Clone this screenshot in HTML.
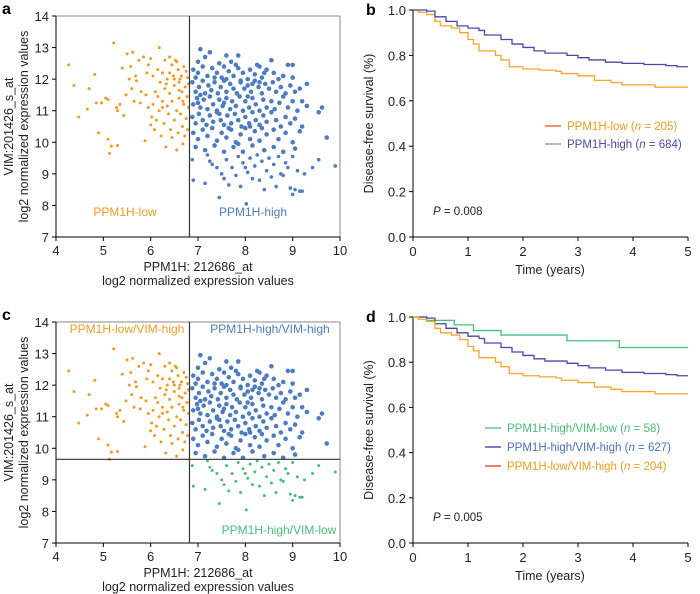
<!DOCTYPE html>
<html><head><meta charset="utf-8"><style>
body{margin:0;background:#fff;}
svg{display:block;font-family:"Liberation Sans",Arial,sans-serif;}
</style></head><body>
<svg id="fig" width="700" height="594" viewBox="0 0 700 594"></svg>
<script>
// Data arrays
const lowHigh = [[4.27,12.45],[4.38,11.8],[4.48,10.8],[4.7,11.7],[4.66,11.05],[4.82,12.15],[4.85,11.25],[4.9,10.3],[4.96,11.25],[5.05,11.4],[5.1,11.35],[5.1,10.1],[5.13,9.65],[5.17,9.88],[5.22,13.15],[5.3,9.9],[5.28,11.1],[5.3,11.0],[5.35,11.2],[5.4,12.35],[5.43,10.85],[5.48,11.5],[5.5,12.8],[5.55,12.0],[5.58,12.4],[5.6,11.7],[5.62,12.85],[5.65,11.3],[5.68,12.1],[5.7,11.95],[5.75,12.6],[5.78,11.25],[5.8,11.6],[5.85,12.7],[5.88,10.05],[5.9,11.5],[5.92,12.2],[5.95,11.1],[6.0,12.65],[6.0,10.55],[6.02,10.8],[6.05,11.2],[6.05,12.1],[6.08,10.4],[6.1,11.6],[6.12,10.7],[6.15,12.3],[6.18,13.0],[6.18,11.0],[6.2,11.9],[6.22,10.2],[6.25,12.2],[6.25,11.3],[6.28,10.6],[6.3,12.6],[6.3,11.7],[6.32,9.85],[6.35,12.0],[6.35,11.15],[6.38,10.9],[6.4,12.7],[6.4,11.55],[6.42,10.4],[6.45,12.45],[6.45,11.3],[6.48,12.1],[6.5,10.7],[6.5,11.8],[6.52,12.6],[6.55,9.75],[6.55,11.0],[6.58,12.3],[6.58,10.3],[6.6,11.9],[6.6,11.4],[6.62,12.0],[6.63,10.9],[6.65,12.1],[6.66,11.6],[6.67,10.5],[6.68,9.95],[6.7,12.4],[6.7,11.2],[6.72,10.2],[6.73,11.75],[6.75,12.25],[6.75,10.75],[6.77,11.45],[6.78,12.05],[6.78,10.4],[6.8,11.1],[6.8,11.85],[6.33,11.85],[6.15,11.45],[5.95,12.45],[6.5,12.0],[6.4,12.2],[6.55,12.55],[6.6,11.65],[6.68,11.3],[6.25,11.1],[6.45,10.15]];
const highHigh = [[7.05,12.95],[7.25,12.85],[7.15,12.7],[7.6,12.75],[7.85,12.75],[8.55,12.6],[8.25,12.45],[9.0,12.45],[8.9,12.45],[7.7,12.55],[7.45,12.5],[7.0,12.55],
[6.9,12.3],[7.0,12.2],[7.1,12.4],[7.2,12.1],[7.3,12.35],[7.4,12.2],[7.5,12.05],[7.55,12.4],[7.65,12.25],[7.75,12.1],[7.85,12.35],[7.95,12.2],[8.05,12.0],[8.1,12.3],[8.2,12.15],[8.3,12.4],[8.35,12.05],[8.45,12.3],[8.6,12.2],[8.7,12.0],[8.8,12.1],[9.0,12.05],[9.3,11.85],[7.35,12.05],[7.8,12.45],[8.4,12.2],[6.95,12.05],[7.6,12.0],
[6.88,11.9],[6.95,11.6],[7.02,11.75],[7.1,11.95],[7.15,11.55],[7.22,11.8],[7.28,11.65],[7.35,11.9],[7.42,11.55],[7.48,11.75],[7.55,11.95],[7.6,11.6],[7.68,11.85],[7.75,11.7],[7.82,11.55],[7.9,11.9],[7.98,11.7],[8.05,11.8],[8.12,11.6],[8.2,11.95],[8.28,11.75],[8.35,11.55],[8.42,11.85],[8.5,11.7],[8.58,11.9],[8.65,11.6],[8.75,11.75],[8.85,11.55],[8.95,11.8],[9.05,11.6],[9.15,11.7],[9.2,11.3],[7.05,11.5],[7.9,11.95],[8.15,11.85],[8.3,11.9],
[6.9,11.2],[6.98,11.4],[7.05,11.1],[7.12,11.35],[7.2,11.05],[7.25,11.45],[7.32,11.2],[7.4,11.0],[7.45,11.35],[7.52,11.15],[7.6,11.4],[7.68,11.05],[7.72,11.3],[7.8,11.15],[7.88,11.45],[7.95,11.0],[8.0,11.3],[8.08,11.1],[8.15,11.4],[8.22,11.2],[8.3,11.0],[8.38,11.35],[8.45,11.1],[8.55,11.3],[8.62,11.05],[8.72,11.25],[8.8,11.45],[8.9,11.1],[9.0,11.3],[9.1,11.0],[9.3,11.15],[9.55,10.95],[9.62,11.1],[7.0,11.25],[7.55,11.25],[8.05,11.45],
[6.88,10.8],[6.95,10.6],[7.02,10.9],[7.1,10.7],[7.18,10.55],[7.25,10.85],[7.32,10.65],[7.4,10.95],[7.48,10.7],[7.55,10.55],[7.62,10.85],[7.7,10.6],[7.78,10.9],[7.85,10.7],[7.92,10.5],[8.0,10.8],[8.08,10.6],[8.15,10.95],[8.22,10.7],[8.3,10.55],[8.38,10.85],[8.45,10.65],[8.55,10.95],[8.65,10.7],[8.75,10.5],[8.85,10.8],[8.95,10.6],[9.05,10.75],[9.2,10.5],[7.45,10.9],[8.1,10.5],
[6.9,10.3],[7.0,10.1],[7.1,10.4],[7.2,10.2],[7.3,10.45],[7.4,10.05],[7.5,10.3],[7.6,10.15],[7.7,10.4],[7.8,10.0],[7.9,10.25],[8.0,10.45],[8.1,10.1],[8.2,10.35],[8.3,10.05],[8.45,10.25],[8.6,10.4],[8.7,10.1],[8.85,10.3],[9.0,10.0],[9.15,10.35],[9.72,10.15],[7.65,10.45],[8.35,10.45],
[6.95,9.85],[7.15,9.75],[7.35,9.9],[7.55,9.7],[7.75,9.85],[7.95,9.7],[8.15,9.9],[8.4,9.75],[8.6,9.85],[8.8,9.7],[9.05,9.8],[7.85,9.95]];
const highLow = [[6.88,9.45],[6.9,8.8],[7.15,8.7],[7.2,9.6],[7.3,9.3],[7.4,9.2],[7.45,8.25],[7.5,9.0],[7.55,8.85],[7.6,9.45],[7.65,8.65],[7.72,9.2],[7.8,8.95],[7.85,9.55],[7.9,8.6],[7.95,9.35],[8.02,8.05],[8.05,9.05],[8.1,9.5],[8.15,8.85],[8.2,9.25],[8.25,9.6],[8.3,8.8],[8.35,9.4],[8.45,9.1],[8.5,9.5],[8.55,8.9],[8.6,9.3],[8.65,8.6],[8.7,9.55],[8.75,9.0],[8.8,8.95],[8.85,9.35],[8.9,9.2],[8.95,8.55],[9.0,8.35],[9.05,8.5],[9.1,9.1],[9.15,8.45],[9.2,8.45],[9.25,9.0],[9.42,9.2],[9.55,9.45],[9.9,9.25],[9.0,9.55],[8.4,8.5],[7.25,9.4],[8.0,9.2]];
const xTicks = [4,5,6,7,8,9,10];
const yTicks = [7,8,9,10,11,12,13,14];
const kmTicksX = [0,1,2,3,4,5];
const kmTicksY = [0.0,0.2,0.4,0.6,0.8,1.0];
const kmLowTimes = [0,0.1,0.25,0.4,0.5,0.7,0.85,1.0,1.1,1.2,1.5,1.6,1.75,2.0,2.3,2.6,2.7,3.0,3.3,3.6,3.8,4.4,5.0];
const kmLowSurv  = [1,0.99,0.98,0.95,0.93,0.92,0.9,0.87,0.85,0.82,0.8,0.78,0.75,0.74,0.735,0.73,0.72,0.71,0.69,0.68,0.67,0.66,0.66];
const kmHighTimes = [0,0.25,0.4,0.6,0.8,1.0,1.2,1.3,1.6,1.8,2.0,2.2,2.4,2.8,3.0,3.2,3.5,3.8,4.2,4.6,4.8,5.0];
const kmHighSurv  = [1,0.995,0.97,0.95,0.93,0.92,0.91,0.89,0.87,0.85,0.835,0.82,0.81,0.8,0.79,0.78,0.77,0.765,0.76,0.755,0.75,0.75];
const kmHHSurv    = [1,0.995,0.97,0.95,0.93,0.915,0.905,0.885,0.865,0.845,0.83,0.815,0.805,0.795,0.785,0.775,0.765,0.755,0.75,0.745,0.74,0.74];
const kmHLTimes = [0,0.25,0.75,1.1,1.6,2.8,3.75,5.0];
const kmHLSurv  = [1,0.985,0.965,0.94,0.92,0.895,0.865,0.865];
const vimCut = 9.65, ppmCut = 6.82;

const NS="http://www.w3.org/2000/svg";
const svg=document.getElementById('fig');
function mk(tag,attrs,parent){const e=document.createElementNS(NS,tag);for(const k in attrs)e.setAttribute(k,attrs[k]);(parent||svg).appendChild(e);return e;}
function txt(s,x,y,attrs,parent){const e=mk('text',Object.assign({x:x,y:y,'font-size':13,fill:'#222'},attrs),parent);e.textContent=s;return e;}

const ORANGE='#f29b1d', BLUE='#4d7cc2', GREEN='#45c07a', PURPLE='#4b47a8', KMORANGE='#f5a62b';

function scatter(oy, quad, letter){
  const x0=56,x1=340,yTop=oy+16,yBot=oy+237;
  const sx=v=>x0+(v-4)/6*(x1-x0), sy=v=>yBot-(v-7)/7*(yBot-yTop);
  const g=mk('g',{});
  
  
  const L=txt(letter,2,oy+14,{'font-size':16,'font-weight':'bold',fill:'#000'},g);
  
  const box=mk('rect',{x:x0,y:yTop,width:x1-x0,height:yBot-yTop,fill:'none',stroke:'#888','stroke-width':1},g);
  
  mk('line',{x1:x0,y1:yTop,x2:x0,y2:yBot,stroke:'#000'},g);
  mk('line',{x1:x0,y1:yBot,x2:x1,y2:yBot,stroke:'#000'},g);
  xTicks.forEach(t=>{mk('line',{x1:sx(t),y1:yBot,x2:sx(t),y2:yBot+4,stroke:'#000'},g);
    const e=txt(t,sx(t),yBot+18,{'text-anchor':'middle'},g);});
  yTicks.forEach(t=>{mk('line',{x1:x0-4,y1:sy(t),x2:x0,y2:sy(t),stroke:'#000'},g);
    const e=txt(t,x0-7,sy(t)+5,{'text-anchor':'end'},g);});
  lowHigh.forEach(p=>{const c=mk('circle',{cx:sx(p[0]),cy:sy(p[1]),r:1.5,fill:ORANGE},g);
    });
  highHigh.forEach(p=>{const c=mk('circle',{cx:sx(p[0]),cy:sy(p[1]),r:2.3,fill:BLUE},g);
    });
  highLow.forEach(p=>{const c=mk('circle',{cx:sx(p[0]),cy:sy(p[1]),r:quad?1.5:1.8,fill:quad?GREEN:BLUE},g);
    });
  const vl=mk('line',{x1:sx(ppmCut),y1:yTop,x2:sx(ppmCut),y2:yBot,stroke:'#333','stroke-width':1.2},g);
  
  if(quad){const hl=mk('line',{x1:x0,y1:sy(vimCut),x2:x1,y2:sy(vimCut),stroke:'#333','stroke-width':1.2},g);
    
    let e=txt('PPM1H-low/VIM-high',127,oy+27,{'text-anchor':'middle',fill:ORANGE,'font-size':12},g);
    e=txt('PPM1H-high/VIM-high',270,oy+27,{'text-anchor':'middle',fill:BLUE,'font-size':12},g);
    e=txt('PPM1H-high/VIM-low',279,oy+228,{'text-anchor':'middle',fill:GREEN,'font-size':12},g);
  } else {
    let e=txt('PPM1H-low',125,oy+216,{'text-anchor':'middle',fill:ORANGE,'font-size':12},g);
    e=txt('PPM1H-high',253,oy+216,{'text-anchor':'middle',fill:BLUE,'font-size':12},g);
  }
  let e=txt('PPM1H: 212686_at',198,yBot+34,{'text-anchor':'middle','font-size':12.5},g);
  e=txt('log2 normalized expression values',198,yBot+48,{'text-anchor':'middle','font-size':12.5},g);
  const cy=(yTop+yBot)/2;
  e=txt('VIM:201426_s_at',13,cy,{'text-anchor':'middle','font-size':12.5,transform:'rotate(-90 13 '+cy+')'},g);
  e=txt('log2 normalized expression values',28,cy,{'text-anchor':'middle','font-size':12.5,transform:'rotate(-90 28 '+cy+')'},g);
}

function km(oy, letter, series, legend, pval){
  const x0=413,x1=688,yTop=oy+(letter==='b'?10:17),yBot=oy+(letter==='b'?237:243);
  const sx=v=>x0+v/5*(x1-x0), sy=v=>yBot-v*(yBot-yTop);
  const g=mk('g',{});
  
  
  let e=txt(letter,366,yTop+5,{'font-size':16,'font-weight':'bold',fill:'#000'},g);
  mk('line',{x1:x0,y1:yTop,x2:x0,y2:yBot,stroke:'#000'},g);
  mk('line',{x1:x0,y1:yBot,x2:x1,y2:yBot,stroke:'#000'},g);
  kmTicksX.forEach(t=>{mk('line',{x1:sx(t),y1:yBot,x2:sx(t),y2:yBot+4,stroke:'#000'},g);
    const e=txt(t,sx(t),yBot+19,{'text-anchor':'middle'},g);});
  kmTicksY.forEach(t=>{mk('line',{x1:x0-4,y1:sy(t),x2:x0,y2:sy(t),stroke:'#000'},g);
    const e=txt(t.toFixed(1),x0-7,sy(t)+5,{'text-anchor':'end'},g);});
  series.forEach(s=>{let d='M'+sx(s.t[0])+','+sy(s.v[0]);
    for(let i=1;i<s.t.length;i++){d+=' H'+sx(s.t[i])+' V'+sy(s.v[i]);}
    const p=mk('path',{d:d,fill:'none',stroke:s.c,'stroke-width':1.3},g);
    });
  legend.forEach((l,i)=>{const ly=l.y;
    mk('line',{x1:l.x,y1:ly,x2:l.x+16,y2:ly,stroke:l.lc,'stroke-width':1.3},g);
    const t=mk('text',{x:l.x+22,y:ly+4,'font-size':11.5,fill:l.tc},g);
    
    t.innerHTML=l.label+' (<tspan font-style="italic">n</tspan> = '+l.n+')';});
  const pt=mk('text',{x:433,y:yBot-22,'font-size':11.5,fill:'#222'},g);
  
  pt.innerHTML='<tspan font-style="italic">P</tspan> = '+pval;
  e=txt('Time (years)',550,yBot+37,{'text-anchor':'middle','font-size':12.5},g);
  const cy=(yTop+yBot)/2;
  e=txt('Disease-free survival (%)',373,cy,{'text-anchor':'middle','font-size':12.5,transform:'rotate(-90 373 '+cy+')'},g);
}

scatter(0,false,'a');
scatter(306,true,'c');
km(0,'b',[
  {t:kmLowTimes,v:kmLowSurv,c:KMORANGE,name:'curve-ppm1h-low'},
  {t:kmHighTimes,v:kmHighSurv,c:PURPLE,name:'curve-ppm1h-high'}],
  [{x:545,y:126,lc:'#e8532b',tc:ORANGE,label:'PPM1H-low',n:205},
   {x:545,y:144,lc:'#8a86c8',tc:PURPLE,label:'PPM1H-high',n:684}],'0.008');
km(300,'d',[
  {t:kmHLTimes,v:kmHLSurv,c:GREEN,name:'curve-high-vim-low'},
  {t:kmHighTimes,v:kmHHSurv,c:PURPLE,name:'curve-high-vim-high'},
  {t:kmLowTimes,v:kmLowSurv,c:KMORANGE,name:'curve-low-vim-high'}],
  [{x:485,y:428,lc:GREEN,tc:GREEN,label:'PPM1H-high/VIM-low',n:58},
   {x:485,y:447,lc:'#3b3aa0',tc:'#4d6fc0',label:'PPM1H-high/VIM-high',n:627},
   {x:485,y:466,lc:'#e8332b',tc:ORANGE,label:'PPM1H-low/VIM-high',n:204}],'0.005');
</script>
</body></html>
